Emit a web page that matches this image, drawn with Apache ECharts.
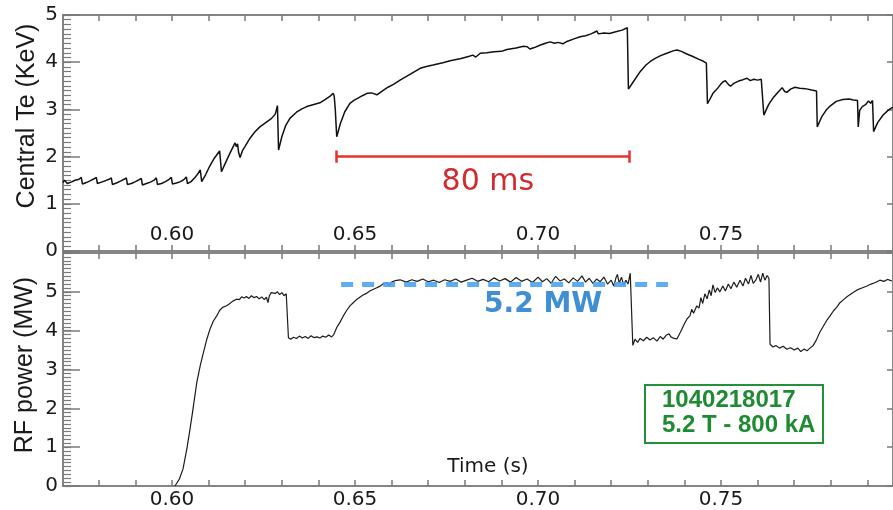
<!DOCTYPE html>
<html>
<head>
<meta charset="utf-8">
<title>Central Te and RF power</title>
<script src="https://cdn.jsdelivr.net/npm/echarts@6.0.0/dist/echarts.min.js"></script>
<style>
  html, body { margin: 0; padding: 0; background: #ffffff; overflow: hidden; }
  #chart { width: 893px; height: 510px; }
</style>
</head>
<body>
<div id="chart"></div>
<script>
// Central electron temperature trace (time in s, Te in keV)
const teTime = [
  0.5702, 0.5706, 0.5711, 0.5714, 0.5724, 0.5735, 0.5746, 0.5752, 0.5755, 0.5766,
  0.5777, 0.5787, 0.5793, 0.5796, 0.5807, 0.5818, 0.5828, 0.5834, 0.5837, 0.5848,
  0.5859, 0.5869, 0.5875, 0.5878, 0.5889, 0.5900, 0.5910, 0.5916, 0.5919, 0.5930,
  0.5941, 0.5951, 0.5957, 0.5960, 0.5971, 0.5982, 0.5992, 0.5998, 0.6001, 0.6012,
  0.6023, 0.6033, 0.6039, 0.6042, 0.6052, 0.6062, 0.6070, 0.6077, 0.6081, 0.6092,
  0.6103, 0.6115, 0.6130, 0.6135, 0.6145, 0.6155, 0.6165, 0.6172, 0.6176, 0.6179,
  0.6182, 0.6186, 0.6192, 0.6200, 0.6213, 0.6226, 0.6240, 0.6256, 0.6272, 0.6282,
  0.6288, 0.6291, 0.6300, 0.6310, 0.6322, 0.6340, 0.6355, 0.6368, 0.6385, 0.6404,
  0.6420, 0.6432, 0.6440, 0.6443, 0.6446, 0.6450, 0.6460, 0.6472, 0.6486, 0.6497,
  0.6508, 0.6520, 0.6533, 0.6545, 0.6560, 0.6575, 0.6590, 0.6605, 0.6623, 0.6650,
  0.6678, 0.6695, 0.6713, 0.6740, 0.6760, 0.6790, 0.6810, 0.6822, 0.6830, 0.6834,
  0.6842, 0.6860, 0.6880, 0.6900, 0.6915, 0.6940, 0.6960, 0.6970, 0.6978, 0.6990,
  0.7005, 0.7020, 0.7033, 0.7045, 0.7055, 0.7068, 0.7079, 0.7100, 0.7115, 0.7130,
  0.7145, 0.7161, 0.7165, 0.7170, 0.7180, 0.7195, 0.7210, 0.7230, 0.7244, 0.7247,
  0.7260, 0.7279, 0.7295, 0.7306, 0.7320, 0.7335, 0.7352, 0.7369, 0.7380, 0.7392,
  0.7405, 0.7423, 0.7440, 0.7452, 0.7460, 0.7463, 0.7470, 0.7478, 0.7489, 0.7498,
  0.7505, 0.7512, 0.7520, 0.7526, 0.7535, 0.7548, 0.7560, 0.7571, 0.7580, 0.7590,
  0.7600, 0.7610, 0.7614, 0.7617, 0.7630, 0.7642, 0.7655, 0.7667, 0.7674, 0.7680,
  0.7690, 0.7702, 0.7715, 0.7730, 0.7748, 0.7761, 0.7763, 0.7775, 0.7787, 0.7798,
  0.7815, 0.7833, 0.7850, 0.7862, 0.7873, 0.7875, 0.7879, 0.7886, 0.7895, 0.7903,
  0.7909, 0.7914, 0.7917, 0.7928, 0.7943, 0.7958, 0.7970
];
const teKeV = [
  1.45, 1.50, 1.54, 1.43, 1.46, 1.50, 1.52, 1.56, 1.42, 1.45,
  1.49, 1.53, 1.56, 1.43, 1.46, 1.49, 1.52, 1.55, 1.41, 1.44,
  1.48, 1.52, 1.55, 1.41, 1.43, 1.47, 1.51, 1.54, 1.40, 1.43,
  1.46, 1.50, 1.55, 1.41, 1.43, 1.47, 1.52, 1.56, 1.42, 1.44,
  1.47, 1.52, 1.57, 1.43, 1.47, 1.55, 1.63, 1.72, 1.47, 1.62,
  1.80, 1.96, 2.12, 1.68, 1.85, 2.02, 2.18, 2.29, 2.21, 2.27,
  2.08, 1.98, 2.12, 2.22, 2.39, 2.52, 2.63, 2.72, 2.81, 2.90,
  3.08, 2.14, 2.42, 2.65, 2.81, 2.94, 3.01, 3.06, 3.10, 3.14,
  3.22, 3.28, 3.34, 3.29, 3.00, 2.42, 2.70, 2.95, 3.13, 3.19,
  3.24, 3.29, 3.34, 3.35, 3.31, 3.39, 3.47, 3.53, 3.62, 3.74,
  3.87, 3.91, 3.94, 3.99, 4.03, 4.08, 4.12, 4.15, 4.11, 4.08,
  4.19, 4.20, 4.22, 4.23, 4.27, 4.30, 4.34, 4.33, 4.28, 4.31,
  4.36, 4.40, 4.43, 4.40, 4.42, 4.39, 4.44, 4.50, 4.54, 4.56,
  4.60, 4.66, 4.60, 4.57, 4.62, 4.61, 4.64, 4.68, 4.73, 3.43,
  3.58, 3.80, 3.94, 4.01, 4.08, 4.14, 4.19, 4.24, 4.26, 4.23,
  4.18, 4.12, 4.06, 4.02, 3.98, 3.12, 3.22, 3.34, 3.43, 3.52,
  3.58, 3.61, 3.53, 3.49, 3.55, 3.60, 3.63, 3.66, 3.61, 3.64,
  3.62, 3.64, 3.60, 2.88, 3.10, 3.24, 3.36, 3.46, 3.38, 3.36,
  3.43, 3.47, 3.45, 3.44, 3.41, 3.39, 2.63, 2.84, 2.98, 3.07,
  3.17, 3.21, 3.22, 3.20, 3.19, 2.63, 2.98, 3.06, 3.10, 3.18,
  3.13, 3.19, 2.53, 2.72, 2.88, 2.99, 3.05
];

// Injected RF power trace (time in s, power in MW)
const rfTime = [
  0.6008, 0.6020, 0.6030, 0.6041, 0.6048, 0.6055, 0.6062, 0.6068, 0.6077, 0.6086,
  0.6095, 0.6104, 0.6113, 0.6122, 0.6130, 0.6138, 0.6149, 0.6158, 0.6166, 0.6176,
  0.6184, 0.6190, 0.6197, 0.6203, 0.6210, 0.6217, 0.6224, 0.6231, 0.6238, 0.6245,
  0.6252, 0.6258, 0.6262, 0.6266, 0.6271, 0.6276, 0.6282, 0.6288, 0.6294, 0.6300,
  0.6306, 0.6312, 0.6316, 0.6318, 0.6324, 0.6332, 0.6340, 0.6348, 0.6356, 0.6364,
  0.6372, 0.6380, 0.6388, 0.6396, 0.6404, 0.6412, 0.6420, 0.6428, 0.6436, 0.6442,
  0.6450, 0.6459, 0.6468, 0.6477, 0.6486, 0.6495, 0.6504, 0.6513, 0.6522, 0.6531,
  0.6540, 0.6549, 0.6558, 0.6567, 0.6576, 0.6586, 0.6593, 0.6600, 0.6610, 0.6623,
  0.6640, 0.6655, 0.6670, 0.6685, 0.6700, 0.6715, 0.6730, 0.6745, 0.6760, 0.6775,
  0.6790, 0.6805, 0.6820, 0.6835, 0.6850, 0.6865, 0.6880, 0.6895, 0.6910, 0.6925,
  0.6940, 0.6955, 0.6970, 0.6985, 0.7000, 0.7012, 0.7024, 0.7036, 0.7048, 0.7060,
  0.7072, 0.7084, 0.7096, 0.7108, 0.7120, 0.7130, 0.7140, 0.7150, 0.7160, 0.7170,
  0.7180, 0.7190, 0.7200, 0.7207, 0.7213, 0.7217, 0.7222, 0.7228, 0.7234, 0.7240,
  0.7246, 0.7252, 0.7256, 0.7259, 0.7265, 0.7272, 0.7279, 0.7288, 0.7297, 0.7306,
  0.7315, 0.7325, 0.7334, 0.7342, 0.7350, 0.7358, 0.7363, 0.7372, 0.7380, 0.7390,
  0.7400, 0.7407, 0.7415, 0.7420, 0.7425, 0.7434, 0.7440, 0.7445, 0.7450, 0.7456,
  0.7462, 0.7468, 0.7473, 0.7478, 0.7484, 0.7490, 0.7497, 0.7505, 0.7512, 0.7520,
  0.7527, 0.7535, 0.7543, 0.7552, 0.7560, 0.7567, 0.7575, 0.7582, 0.7588, 0.7595,
  0.7602, 0.7608, 0.7614, 0.7620, 0.7626, 0.7631, 0.7634, 0.7642, 0.7650, 0.7660,
  0.7670, 0.7680, 0.7690, 0.7700, 0.7710, 0.7718, 0.7727, 0.7735, 0.7743, 0.7752,
  0.7760, 0.7770, 0.7780, 0.7790, 0.7798, 0.7808, 0.7816, 0.7825, 0.7835, 0.7845,
  0.7861, 0.7872, 0.7885, 0.7899, 0.7910, 0.7922, 0.7934, 0.7945, 0.7955, 0.7967
];
const rfMW = [
  0.00, 0.18, 0.44, 0.99, 1.40, 1.84, 2.30, 2.69, 3.10, 3.45,
  3.78, 4.05, 4.25, 4.38, 4.52, 4.60, 4.64, 4.70, 4.76, 4.81,
  4.80, 4.87, 4.84, 4.88, 4.83, 4.90, 4.85, 4.88, 4.82, 4.87,
  4.80, 4.86, 4.72, 4.90, 4.98, 5.03, 4.96, 5.00, 4.93, 4.98,
  4.90, 4.95, 4.90, 3.82, 3.78, 3.83, 3.80, 3.86, 3.81, 3.85,
  3.80, 3.87, 3.82, 3.84, 3.81, 3.86, 3.83, 3.89, 3.84, 3.90,
  4.08, 4.22, 4.38, 4.52, 4.64, 4.72, 4.80, 4.86, 4.92, 4.96,
  5.02, 5.06, 5.10, 5.14, 5.20, 5.24, 5.16, 5.25, 5.29, 5.31,
  5.25, 5.31, 5.27, 5.33, 5.26, 5.30, 5.24, 5.31, 5.27, 5.33,
  5.25, 5.30, 5.35, 5.27, 5.32, 5.26, 5.36, 5.28, 5.34, 5.25,
  5.37, 5.27, 5.33, 5.24, 5.38, 5.26, 5.34, 5.22, 5.40, 5.28,
  5.33, 5.23, 5.36, 5.27, 5.41, 5.25, 5.35, 5.22, 5.33, 5.26,
  5.38, 5.20, 5.30, 5.15, 5.36, 5.45, 5.22, 5.38, 5.18, 5.30,
  5.20, 5.48, 5.50, 3.62, 3.78, 3.70, 3.80, 3.74, 3.83, 3.76,
  3.82, 3.73, 3.85, 3.78, 3.88, 3.92, 3.84, 3.80, 3.79, 3.98,
  4.18, 4.30, 4.38, 4.55, 4.45, 4.64, 4.58, 4.85, 4.70, 4.95,
  4.82, 5.05, 4.90, 5.18, 4.98, 5.10, 5.00, 5.15, 5.02, 5.20,
  5.08, 5.25, 5.12, 5.30, 5.15, 5.35, 5.20, 5.42, 5.22, 5.30,
  5.45, 5.25, 5.48, 5.30, 5.42, 5.35, 3.65, 3.58, 3.62, 3.55,
  3.60, 3.52, 3.56, 3.50, 3.55, 3.46, 3.53, 3.48, 3.55, 3.62,
  3.75, 3.96, 4.12, 4.28, 4.38, 4.52, 4.60, 4.72, 4.80, 4.88,
  4.98, 5.05, 5.10, 5.15, 5.20, 5.24, 5.30, 5.27, 5.32, 5.28
];

// Time axis range and tick positions
const timeRange = [0.5702, 0.797];
const timeLabels = [0.60, 0.65, 0.70, 0.75];
const timeTicks = [0.58, 0.59, 0.60, 0.61, 0.62, 0.63, 0.64, 0.65, 0.66, 0.67,
                   0.68, 0.69, 0.70, 0.71, 0.72, 0.73, 0.74, 0.75, 0.76, 0.77, 0.78, 0.79];

// Te rise interval bracket (start time and duration in s, drawn at Te = 2 keV)
const riseStart = 0.645;
const riseSpan = 0.080;
const riseLevel = 2;
const riseCap = 0.13;

// RF power plateau reference
const plateauMW = 5.2;
const plateauStart = 0.6462;
const plateauEnd = 0.7355;

// Discharge tag
const shotTag = ['1040218017', '5.2 T - 800 kA'];

const AXIS_GREY = '#858585';
const TICK_GREY = '#7a7a7a';
const INK = '#1a1a1a';
const TICK_FONT = 'DejaVu Sans';

function timeAxis(gridIndex, position, labels) {
  return {
    type: 'value', gridIndex, position,
    min: timeRange[0], max: timeRange[1],
    axisLine: { show: true, onZero: false, lineStyle: { color: AXIS_GREY, width: 2 } },
    axisTick: { show: true, inside: true, length: 6, customValues: timeTicks,
                lineStyle: { color: TICK_GREY, width: 1.5 } },
    axisLabel: labels ? {
      show: true, customValues: timeLabels, inside: labels === 'inside',
      margin: labels === 'inside' ? 6 : 4,
      formatter: v => v.toFixed(2), color: INK, fontSize: 20, fontFamily: TICK_FONT
    } : { show: false },
    splitLine: { show: false }
  };
}

function valueAxis(gridIndex, position, max, labels) {
  return {
    type: 'value', gridIndex, position, min: 0, max, interval: 1,
    axisLine: { show: true, onZero: false, lineStyle: { color: AXIS_GREY, width: 2 } },
    axisTick: { show: true, inside: true, length: labels ? 17 : 6,
                lineStyle: { color: TICK_GREY, width: 1.5 } },
    axisLabel: labels ? {
      show: true, margin: 5, color: INK, fontSize: 20, fontFamily: TICK_FONT,
      formatter: v => (v > 5 ? '' : String(v))
    } : { show: false },
    splitLine: { show: false }
  };
}

// Fine 0.1-step tick comb along the left edge of a panel
function fineTickAxis(gridIndex, max) {
  return {
    type: 'value', gridIndex, position: 'left', min: 0, max, interval: 0.1,
    axisLine: { show: false, onZero: false },
    axisTick: { show: true, inside: true, length: 8,
                lineStyle: { color: TICK_GREY, width: 1.2 } },
    axisLabel: { show: false },
    splitLine: { show: false }
  };
}

const tePoints = teTime.map((t, i) => [t, teKeV[i]]);
const rfPoints = rfTime.map((t, i) => [t, rfMW[i]]);

const chart = echarts.init(document.getElementById('chart'), null, { renderer: 'canvas' });

chart.setOption({
  animation: false,
  backgroundColor: '#ffffff',
  grid: [
    { left: 63, top: 15, width: 830, height: 236 },
    { left: 63, top: 253, width: 830, height: 237 }
  ],
  xAxis: [
    timeAxis(0, 'bottom', 'inside'),
    timeAxis(0, 'top', null),
    timeAxis(1, 'bottom', 'outside'),
    timeAxis(1, 'top', null)
  ],
  yAxis: [
    valueAxis(0, 'left', 5, true),
    valueAxis(0, 'right', 5, false),
    valueAxis(1, 'left', 6, true),
    valueAxis(1, 'right', 6, false),
    fineTickAxis(0, 5),
    fineTickAxis(1, 6)
  ],
  series: [
    {
      name: 'Central Te', type: 'line', xAxisIndex: 0, yAxisIndex: 0,
      data: tePoints, symbol: 'none', showSymbol: false,
      lineStyle: { color: '#111111', width: 1.5 },
      markLine: {
        silent: true, symbol: ['none', 'none'],
        label: { show: false },
        lineStyle: { color: '#e8302c', width: 2.5, type: 'solid' },
        data: [
          [{ coord: [riseStart, riseLevel] }, { coord: [riseStart + riseSpan, riseLevel] }],
          [{ coord: [riseStart, riseLevel - riseCap] }, { coord: [riseStart, riseLevel + riseCap] }],
          [{ coord: [riseStart + riseSpan, riseLevel - riseCap] }, { coord: [riseStart + riseSpan, riseLevel + riseCap] }]
        ]
      },
      markPoint: {
        silent: true, symbol: 'circle', symbolSize: 1,
        itemStyle: { color: 'rgba(0,0,0,0)' },
        label: {
          show: true, position: 'inside',
          formatter: Math.round(riseSpan * 1000) + ' ms',
          color: '#d12a30', fontSize: 30, fontFamily: TICK_FONT
        },
        data: [{ coord: [0.6863, 1.46] }]
      }
    },
    {
      name: 'RF power', type: 'line', xAxisIndex: 2, yAxisIndex: 2,
      data: rfPoints, symbol: 'none', showSymbol: false,
      lineStyle: { color: '#1c1c1c', width: 1.2 },
      markLine: {
        silent: true, symbol: ['none', 'none'],
        label: { show: false },
        lineStyle: { color: '#4fa3ee', width: 5, type: [12, 9], opacity: 0.9 },
        data: [
          [{ coord: [plateauStart, plateauMW] }, { coord: [plateauEnd, plateauMW] }]
        ]
      },
      markPoint: {
        silent: true, symbol: 'circle', symbolSize: 1,
        itemStyle: { color: 'rgba(0,0,0,0)' },
        label: {
          show: true, position: 'inside',
          formatter: plateauMW.toFixed(1) + ' MW',
          color: '#3f8fd2', fontSize: 28, fontWeight: 'bold', fontFamily: TICK_FONT
        },
        data: [{ coord: [0.7014, 4.68] }]
      }
    }
  ],
  graphic: [
    {
      type: 'text', x: 27, y: 116, rotation: Math.PI / 2,
      style: { text: 'Central Te (KeV)', fontSize: 25, fontFamily: 'Liberation Sans',
               fill: INK, align: 'center', verticalAlign: 'middle' }
    },
    {
      type: 'text', x: 25, y: 365, rotation: Math.PI / 2,
      style: { text: 'RF power (MW)', fontSize: 25, fontFamily: 'Liberation Sans',
               fill: INK, align: 'center', verticalAlign: 'middle' }
    },
    {
      type: 'text', x: 488, y: 467,
      style: { text: 'Time (s)', fontSize: 20, fontFamily: TICK_FONT,
               fill: INK, align: 'center', verticalAlign: 'middle' }
    },
    {
      type: 'rect', shape: { x: 645, y: 385, width: 178, height: 58 },
      style: { fill: '#ffffff', stroke: '#22913a', lineWidth: 2 }
    },
    {
      type: 'text', x: 662, y: 400,
      style: { text: shotTag[0], fontSize: 24, fontWeight: 'bold', fontFamily: 'Liberation Sans',
               fill: '#1e8a32', align: 'left', verticalAlign: 'middle' }
    },
    {
      type: 'text', x: 662, y: 425,
      style: { text: shotTag[1], fontSize: 24, fontWeight: 'bold', fontFamily: 'Liberation Sans',
               fill: '#1e8a32', align: 'left', verticalAlign: 'middle' }
    }
  ]
});
</script>
</body>
</html>
